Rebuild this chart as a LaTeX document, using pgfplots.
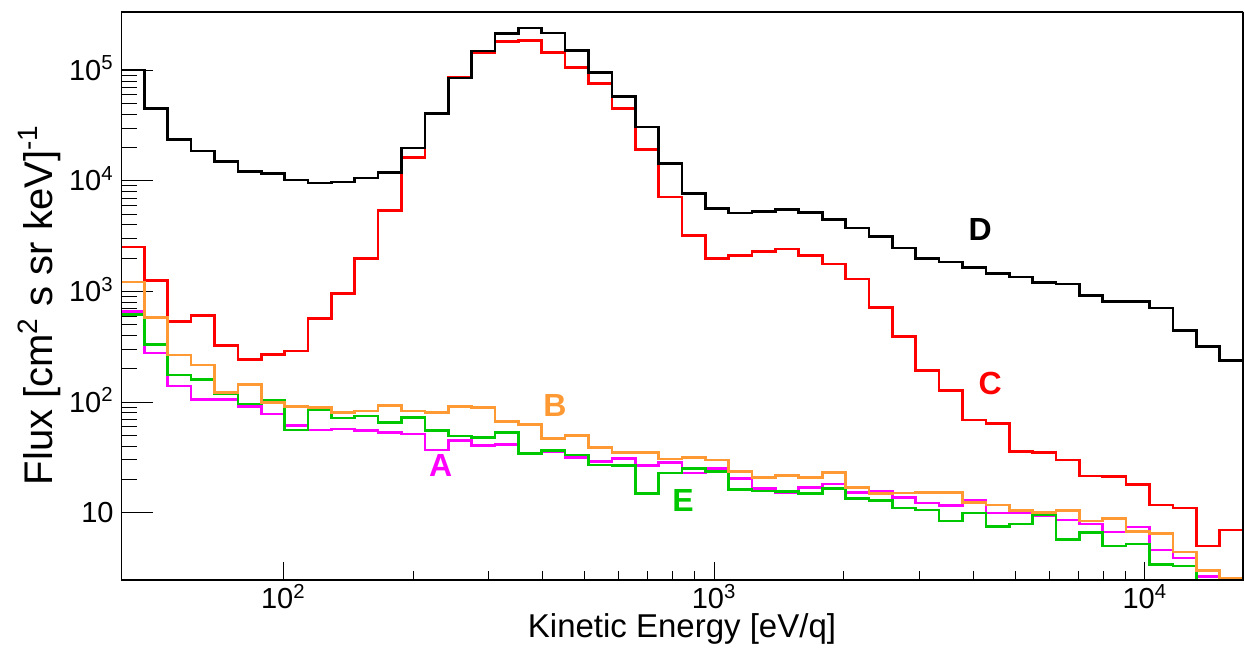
\documentclass[border=0pt]{standalone}
\usepackage{fontspec}
\setmainfont{Liberation Sans}
\usepackage{pgfplots}
\pgfplotsset{compat=1.18}
\usepackage{pgfplotstable}
\usetikzlibrary{calc}

\definecolor{hA}{HTML}{FF00FF}
\definecolor{hB}{HTML}{FF9933}
\definecolor{hC}{HTML}{FF0000}
\definecolor{hD}{HTML}{000000}
\definecolor{hE}{HTML}{00C800}

% left bin edges (log-spaced), flux per series; first row starts the step at the floor
\pgfplotstableread{
x      A     B     C       D       E
41.98  1     1     1       1       1
41.98  659   1220  2520    101000  615
47.57  277   586   1250    45000   334
53.88  140   267   535     23600   176
61.06  105   217   606     18700   159
69.21  106   122   323     15000   120
78.43  91    145   244     12100   96
88.84  78    99    271     11700   103
100.67 61    91    290     10200   56
114.07 56    89    574     9600    85
129.25 57    80    953     9800    72
146.46 55    83    1980    10600   75
165.96 53    93    5370    11900   65
188.07 51.5  83    16300   19900   73
213.07 36.9  80    41000   40800   55
241.45 44.6  91    87000   85000   49.4
273.59 40.2  89    144000  150000  48
309.96 41.6  67    183000  216000  53
351.25 34.5  63    185000  242000  34.5
398.02 35.6  47    146000  218000  36.4
450.88 31.5  50    106000  152000  33.3
510.99 29    38.7  76000   96000   27
579.02 31    35.2  45000   58200   26.5
656.13 26.5  35.2  19100   30800   15
743.30 28.6  30.6  7150    14400   22.8
842.26 22.8  31.7  3190    7650    25.2
954.42 25.2  30    1990    5600    23.5
1081.4 20.5  23.5  2120    5120    16.3
1225.4 16.6  20.7  2300    5260    15.7
1388.6 15.2  21.6  2430    5480    15.5
1573.1 17    20.9  2120    5190    15
1782.6 18.2  23.2  1770    4460    16.6
2020.0 15.2  16.8  1300    3750    13.5
2289.1 15.5  14.9  716     3150    12.8
2593.5 13.7  15.1  392     2470    11
2938.9 12.2  15.3  193     2000    10.6
3330.2 11.6  15.3  127     1850    8.4
3773.2 12.8  12.4  69      1660    9.9
4275.7 9.9   11.7  64.4    1450    7.5
4845.1 10    10.4  35.6    1350    7.9
5489.5 9.4   10.1  34.9    1210    9.5
6220.5 8.6   10.4  30      1170    5.7
7048.9 7.9   8.4   21.5    914     6.65
7987.6 6.7   8.8   21.2    812     5.0
9049.6 7.4   6.8   18.1    812     5.2
10254  4.6   6.5   11.7    708     3.4
11620  3.9   4.4   11.0    444     3.3
13165  2.64  3.0   5.0     318     2.45
14918  1     2.55  6.97    238     1
16904  1     2.55  6.97    238     1
}\spectra

\begin{document}
\begin{tikzpicture}
\begin{axis}[
  name=ax,
  width=561pt, height=284pt, scale only axis,
  xmode=log, ymode=log,
  xmin=41.98, xmax=16904, ymin=2.46, ymax=3.37e5,
  tick align=inside, tick pos=left,
  xtick={100,1000,10000},
  xticklabels={10\textsuperscript{2}, 10\textsuperscript{3}, 10\textsuperscript{4}},
  ytick={10,100,1000,10000,100000},
  yticklabels={10, 10\textsuperscript{2}, 10\textsuperscript{3}, 10\textsuperscript{4}, 10\textsuperscript{5}},
  xtick style={black, line width=0.5pt, /pgfplots/major tick length=9pt, /pgfplots/minor tick length=4.5pt},
  ytick style={black, line width=0.5pt, /pgfplots/major tick length=16pt, /pgfplots/minor tick length=8pt},
  ticklabel style={font=\fontsize{14.5}{16}\selectfont, inner sep=0pt},
  xticklabel style={anchor=base, yshift=-14.5pt},
  yticklabel style={anchor=base east, xshift=-3.5pt, yshift=-5pt},
  every axis plot/.append style={const plot mark left, line width=1.35pt, no marks},
]
\addplot[hA] table[x=x, y=A] {\spectra};
\addplot[hE] table[x=x, y=E] {\spectra};
\addplot[hC] table[x=x, y=C] {\spectra};
\addplot[hD] table[x=x, y=D] {\spectra};
\addplot[hB] table[x=x, y=B] {\spectra};

\draw[black, line width=1.3pt] (rel axis cs:0,0) rectangle (rel axis cs:1,1);

\node[font=\fontsize{16}{18}\selectfont\bfseries, text=hD] at (axis cs:4147,3614) {D};
\node[font=\fontsize{16}{18}\selectfont\bfseries, text=hC] at (axis cs:4373,146) {C};
\node[font=\fontsize{16}{18}\selectfont\bfseries, text=hB] at (axis cs:427,92.4) {B};
\node[font=\fontsize{16}{18}\selectfont\bfseries, text=hA] at (axis cs:232,26.5) {A};
\node[font=\fontsize{16}{18}\selectfont\bfseries, text=hE] at (axis cs:847,13.0) {E};
\end{axis}

\node[anchor=base, inner sep=0pt, font=\fontsize{16.5}{18}\selectfont] at ($(ax.south)+(0,-29pt)$) {Kinetic Energy [eV/q]};
\node[rotate=90, inner sep=0pt, font=\fontsize{20}{22}\selectfont] at ($(ax.west)+(-41pt,-4.5pt)$) {Flux [cm\textsuperscript{2} s sr keV]\textsuperscript{-1}};

\pgfresetboundingbox
\path ($(ax.south west)+(-60.5pt,-37pt)$) rectangle ($(ax.north east)+(0.5pt,6pt)$);
\end{tikzpicture}
\end{document}
